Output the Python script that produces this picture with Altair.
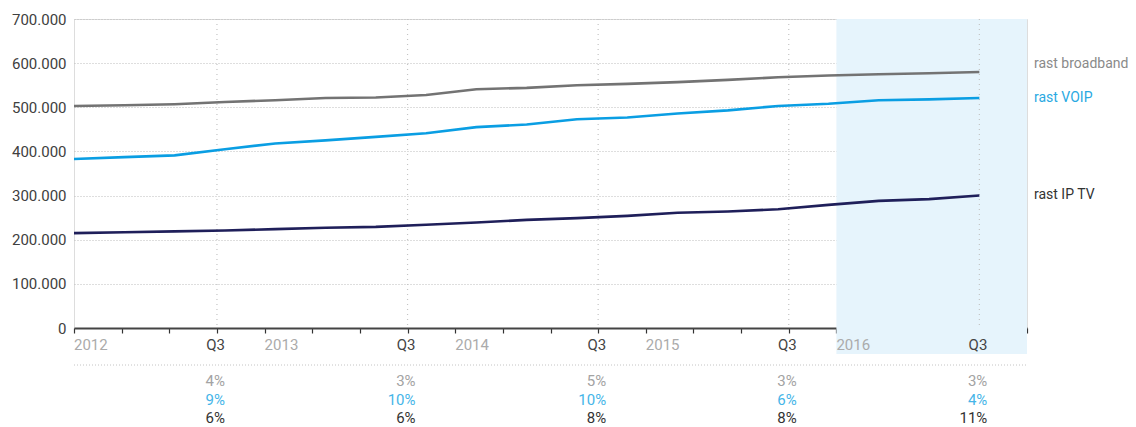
import altair as alt
import pandas as pd

# ---- data ----
point_index = list(range(19))  # 19 quarterly observations, 2012 .. Q3 2016
broadband = [503000, 504500, 507000, 512000, 516000, 521000, 522000, 528000, 541000, 544000,
             550000, 553000, 557000, 562000, 568000, 572000, 575000, 577000, 580000]
voip = [383000, 387000, 391000, 405000, 418000, 425000, 433000, 441000, 455000, 461000,
        473000, 477000, 486000, 493000, 503000, 508000, 516000, 518000, 521000]
iptv = [215000, 217000, 219000, 221000, 224000, 227000, 229000, 234000, 239000, 245000,
        249000, 254000, 261000, 264000, 269000, 279000, 288000, 292000, 300000]

series_names = ["rast broadband", "rast VOIP", "rast IP TV"]
series_colors = ["#737373", "#0a9ee3", "#1f1f5a"]
label_colors = ["#8a8a8a", "#2aa9e2", "#333333"]

year_pos = [0, 4, 8, 12, 16]
year_labels = ["2012", "2013", "2014", "2015", "2016"]
q3_pos = [3, 7, 11, 15, 19]
q3_labels = ["Q3", "Q3", "Q3", "Q3", "Q3"]

pct_broadband = ["4%", "3%", "5%", "3%", "3%"]
pct_voip = ["9%", "10%", "10%", "6%", "4%"]
pct_iptv = ["6%", "6%", "8%", "8%", "11%"]
pct_colors = ["#a3a3a3", "#45b5e8", "#333333"]

y_ticks = [0, 100000, 200000, 300000, 400000, 500000, 600000, 700000]
quarter_ticks = list(range(21))

W, H = 953, 309
FONT = "Roboto"

rows = []
for name, vals in zip(series_names, [broadband, voip, iptv]):
    for i, v in zip(point_index, vals):
        rows.append({"series": name, "i": i, "value": v})
lines_df = pd.DataFrame(rows)

xq = alt.Scale(domain=[0, 20], nice=False, zero=False)
ys = alt.Scale(domain=[0, 700000], nice=False)

# highlight band for 2016
band = alt.Chart(pd.DataFrame({"a": [16], "b": [20]})).mark_rect(color="#e6f4fc").encode(
    x=alt.X("a:Q", scale=xq, axis=alt.Axis(values=quarter_ticks, labels=False, grid=False,
                                            tickSize=5, tickColor="#333333", tickWidth=1.2,
                                            domainColor="#444444", domainWidth=2, title=None,
                                            ticks=True)),
    x2="b:Q",
    y=alt.value(0),
    y2=alt.value(H + 26),
)

# vertical dotted rules at Q3
vrules = alt.Chart(pd.DataFrame({"q": q3_pos})).mark_rule(
    color="#c4c4c4", strokeDash=[1, 4], strokeWidth=1.2
).encode(x=alt.X("q:Q", scale=xq), y=alt.value(0), y2=alt.value(H - 2))

lines = alt.Chart(lines_df).transform_calculate(
    pos="datum.i * 19 / 18"
).mark_line(strokeWidth=2.6).encode(
    x=alt.X("pos:Q", scale=xq),
    y=alt.Y("value:Q", scale=ys,
            axis=alt.Axis(values=y_ticks, title=None, ticks=False, domain=False,
                          labelPadding=8, labelColor="#404040", labelFontSize=15,
                          labelFont=FONT, gridColor="#bdbdbd", gridDash=[1, 2],
                          gridWidth=1,
                          labelExpr="replace(format(datum.value, ','), ',', '.')")),
    color=alt.Color("series:N", scale=alt.Scale(domain=series_names, range=series_colors),
                    legend=None),
)

# x tick labels
years = alt.Chart(pd.DataFrame({"p": year_pos, "t": year_labels})).mark_text(
    align="left", baseline="middle", font=FONT, fontSize=15, color="#ababab"
).encode(x=alt.X("p:Q", scale=xq), y=alt.value(H + 17), text="t:N")

q3s = alt.Chart(pd.DataFrame({"p": q3_pos, "t": q3_labels})).mark_text(
    align="right", baseline="middle", font=FONT, fontSize=15, color="#444444", dx=8
).encode(x=alt.X("p:Q", scale=xq), y=alt.value(H + 17), text="t:N")

sep = alt.Chart(pd.DataFrame({"a": [0], "b": [20]})).mark_rule(
    color="#c4c4c4", strokeDash=[1, 2], strokeWidth=1
).encode(x=alt.X("a:Q", scale=xq), x2="b:Q", y=alt.value(H + 37))

pct_layers = []
for k, (vals, col) in enumerate(zip([pct_broadband, pct_voip, pct_iptv], pct_colors)):
    pct_layers.append(
        alt.Chart(pd.DataFrame({"p": q3_pos, "t": vals})).mark_text(
            align="right", baseline="middle", font=FONT, fontSize=15, color=col, dx=8
        ).encode(x=alt.X("p:Q", scale=xq), y=alt.value(H + 53 + k * 18.5), text="t:N")
    )

# right-hand series labels
end_vals = [broadband[-1], voip[-1], iptv[-1]]
lab_df = pd.DataFrame({"series": series_names, "v": end_vals, "p": [20, 20, 20]})
end_labels = []
for name, col, dy in zip(series_names, label_colors, [-8, 0, -1]):
    end_labels.append(
        alt.Chart(lab_df[lab_df.series == name]).mark_text(
            align="left", baseline="middle", font=FONT, fontSize=14, color=col, dx=7, dy=dy
        ).encode(x=alt.X("p:Q", scale=xq), y=alt.Y("v:Q", scale=ys), text="series:N")
    )

chart = alt.layer(band, vrules, lines, years, q3s, sep, *pct_layers, *end_labels).properties(
    width=W, height=H,
    autosize=alt.AutoSizeParams(type="none"),
    padding={"left": 66, "top": 11, "right": 101, "bottom": 99},
).configure_view(stroke=None).configure(background="white")

chart.save("out.html", embed_options={"renderer": "svg", "actions": False})
